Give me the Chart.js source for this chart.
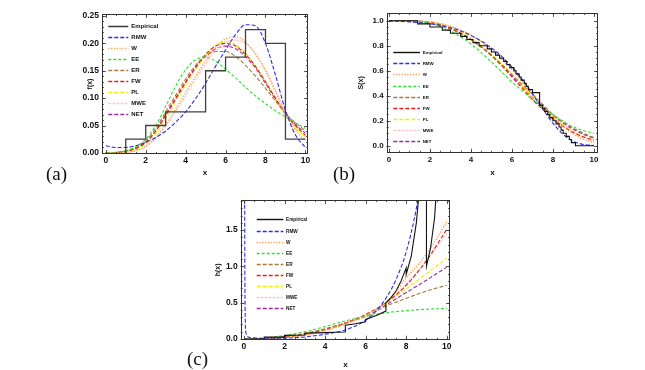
<!DOCTYPE html>
<html><head><meta charset="utf-8">
<script src="https://cdn.jsdelivr.net/npm/chart.js@4.4.0/dist/chart.umd.min.js"></script>
<style>
html,body{margin:0;padding:0;background:#fff;}
#wrap{position:relative;width:645px;height:370px;overflow:hidden;background:#fff;}
canvas{position:absolute;}
.tag{position:absolute;font-family:'Liberation Serif','Times New Roman',serif;font-size:19px;line-height:1;color:#111;}
</style></head><body>
<div id="wrap">
<canvas id="pdf" width="256" height="178" style="left:58px;top:4px"></canvas>
<canvas id="surv" width="265" height="178" style="left:340px;top:4px"></canvas>
<canvas id="haz" width="265" height="178" style="left:190px;top:192px"></canvas>
<div class="tag" style="left:46px;top:164px">(a)</div>
<div class="tag" style="left:333px;top:164px">(b)</div>
<div class="tag" style="left:187px;top:349px">(c)</div>
</div>
<script>
// ---------- data ----------
const names=['Empirical','RMW','W','EE','ER','FW','PL','MWE','NET'];
const gridX=[0,0.5,1,1.5,2,2.5,3,3.5,4,4.5,5,5.5,6,6.5,7,7.5,8,8.5,9,9.5,10];

// (a) density
const histX=[1,1,2,3,4,5,6,7,8,9,10];
const histY=[0,0.025,0.05,0.075,0.075,0.15,0.175,0.225,0.2,0.025,0.025];
const pdfRMW=[0.013,0.010,0.010,0.013,0.019,0.028,0.040,0.056,0.075,0.099,0.127,0.158,0.188,0.216,0.234,0.232,0.200,0.142,0.078,0.033,0.010];
const pdfW  =[0,0,0.001,0.004,0.012,0.028,0.052,0.080,0.110,0.140,0.168,0.193,0.208,0.212,0.202,0.180,0.150,0.112,0.072,0.042,0.022];
const pdfEE =[0,0.001,0.004,0.011,0.025,0.050,0.085,0.122,0.152,0.170,0.175,0.167,0.153,0.137,0.120,0.104,0.090,0.077,0.066,0.055,0.045];
const pdfER =[0,0.001,0.004,0.010,0.022,0.045,0.075,0.105,0.135,0.160,0.177,0.185,0.185,0.176,0.160,0.140,0.118,0.095,0.072,0.055,0.040];
const pdfFW =[0,0,0.003,0.008,0.019,0.040,0.070,0.100,0.130,0.157,0.180,0.195,0.200,0.195,0.180,0.158,0.130,0.100,0.072,0.050,0.032];
const pdfPL =[0,0,0.002,0.006,0.016,0.035,0.062,0.093,0.124,0.152,0.177,0.196,0.203,0.198,0.182,0.158,0.130,0.100,0.071,0.048,0.028];
const pdfMWE=[0,0,0.001,0.004,0.011,0.026,0.048,0.075,0.104,0.134,0.162,0.186,0.202,0.206,0.200,0.182,0.152,0.115,0.075,0.045,0.030];
const pdfNET=[0,0,0.003,0.008,0.019,0.040,0.068,0.098,0.128,0.155,0.176,0.190,0.195,0.190,0.176,0.155,0.127,0.098,0.072,0.052,0.036];

// (b) survival
const ecdfX=[0,1.4,2.0,2.6,3.0,3.5,3.8,4.1,4.4,4.8,5.0,5.2,5.4,5.6,5.75,5.9,6.1,6.2,6.35,6.45,6.6,6.7,6.8,7.0,7.35,7.5,7.6,7.75,7.85,8.0,8.15,8.3,8.4,8.5,8.65,8.8,8.9,9.1,10];
const ecdfY=[1,0.975,0.95,0.925,0.9,0.875,0.85,0.825,0.8,0.775,0.75,0.725,0.7,0.675,0.65,0.625,0.6,0.575,0.55,0.525,0.5,0.475,0.45,0.425,0.325,0.3,0.275,0.25,0.225,0.2,0.175,0.15,0.125,0.1,0.075,0.05,0.025,0,0];
const survRMW=[1,0.996,0.991,0.984,0.975,0.962,0.944,0.918,0.883,0.838,0.783,0.715,0.630,0.530,0.415,0.295,0.180,0.090,0.035,0.010,0.002];
const survW  =[1,1,0.999,0.996,0.990,0.977,0.955,0.925,0.885,0.835,0.770,0.695,0.610,0.515,0.415,0.320,0.230,0.155,0.095,0.050,0.025];
const survEE =[1,1,0.998,0.993,0.980,0.955,0.920,0.870,0.815,0.745,0.670,0.590,0.510,0.440,0.370,0.310,0.250,0.195,0.150,0.120,0.100];
const survER =[1,1,0.998,0.993,0.983,0.965,0.935,0.895,0.850,0.790,0.725,0.650,0.570,0.490,0.410,0.330,0.250,0.190,0.140,0.100,0.065];
const survFW =[1,1,0.999,0.995,0.986,0.968,0.940,0.900,0.850,0.790,0.720,0.640,0.550,0.460,0.370,0.290,0.215,0.155,0.105,0.070,0.045];
const survPL =[1,1,0.999,0.996,0.990,0.975,0.950,0.912,0.865,0.805,0.735,0.655,0.570,0.480,0.390,0.305,0.230,0.165,0.110,0.070,0.040];
const survMWE=[1,1,0.999,0.997,0.991,0.978,0.956,0.925,0.885,0.832,0.770,0.695,0.610,0.520,0.425,0.330,0.245,0.170,0.110,0.065,0.035];
const survNET=[1,1,0.999,0.995,0.986,0.967,0.938,0.898,0.850,0.790,0.722,0.645,0.560,0.475,0.390,0.310,0.240,0.180,0.130,0.090,0.060];

// (c) hazard
const hazX=[0,1,2,3,4,5,6,7,8,9,10];
const hazEmpX=[0,1,1,1.5,2,2,2.5,3,3,3.5,4,4,4.5,5,5,5.5,6,6,6.5,7,7,7.25,7.5,7.75,8,8,8.25,8.5,8.6,8.7,9,9,9.2,9.4,9.6];
const hazEmpY=[0,0,0.025,0.025,0.026,0.05,0.052,0.054,0.08,0.084,0.088,0.088,0.092,0.097,0.19,0.21,0.235,0.27,0.32,0.385,0.5,0.57,0.66,0.8,0.98,0.89,1.14,1.6,1.9,3,3,1.0,1.25,1.67,2.5];
const hazRMWX=[0.02,0.05,0.1,0.3,0.6,1,1.5,2,2.5,3,3.5,4,4.5,5,5.5,6,6.5,7,7.5,8,8.5,9];
const hazRMW=[4,0.6,0.08,0.02,0.012,0.01,0.01,0.012,0.018,0.028,0.045,0.065,0.09,0.125,0.18,0.26,0.38,0.56,0.82,1.2,1.8,2.7];
const hazW  =[0,0.002,0.02,0.055,0.12,0.21,0.33,0.5,0.84,1.17,1.61];
const hazEE =[0,0.012,0.048,0.1,0.17,0.25,0.31,0.36,0.39,0.41,0.42];
const hazER =[0,0.006,0.035,0.08,0.14,0.22,0.31,0.45,0.56,0.66,0.74];
const hazFW =[0,0.003,0.025,0.065,0.13,0.22,0.34,0.5,0.74,1.08,1.51];
const hazPL =[0,0.002,0.02,0.06,0.125,0.215,0.33,0.49,0.69,0.9,1.11];
const hazMWE=[0,0.002,0.018,0.05,0.11,0.2,0.32,0.49,0.76,1.08,1.45];
const hazNET=[0,0.004,0.028,0.07,0.135,0.22,0.33,0.47,0.64,0.81,0.99];

// tick labels
const xTicks=[0,2,4,6,8,10];
const pdfTicks=[0,0.05,0.1,0.15,0.2,0.25];
const survTicks=[0,0.2,0.4,0.6,0.8,1];
const hazTicks=[0,0.5,1,1.5];

// ---------- styles ----------
const styles={
  Empirical:{c:'#111',d:[],w:1.1},
  RMW:{c:'#2b2bf0',d:[4,2],w:1.1},
  W:{c:'#ff9c45',d:[1.2,1.6],w:1.4},
  EE:{c:'#2ee02e',d:[3,2],w:1.1},
  ER:{c:'#a87940',d:[4,2],w:1.1},
  FW:{c:'#ec1c1c',d:[4,2],w:1.1},
  PL:{c:'#f2f000',d:[4,2],w:1.1},
  MWE:{c:'#ffc9c9',d:[3,1],w:1.1},
  NET:{c:'#9a2aa0',d:[4,2],w:1.1}
};
const FONT='"Liberation Sans", Arial, sans-serif';
Chart.defaults.font.family=FONT;
Chart.defaults.color='#111';

const pts=(xs,ys)=>xs.map((x,i)=>({x:x,y:ys[i]}));
function ds(name,xs,ys,extra){
  const s=styles[name];
  return Object.assign({label:name,data:pts(xs,ys),borderColor:s.c,borderDash:s.d,borderWidth:s.w,
    pointRadius:0,fill:false,cubicInterpolationMode:'monotone'},extra||{});
}
function minors(lo,hi,step){const a=[];for(let v=lo;v<=hi+1e-9;v+=step)a.push(+v.toFixed(4));return a;}

const frameTicks={
  id:'frameTicks',
  afterDraw(chart,args,o){
    const {ctx,chartArea:ca,scales}=chart;
    ctx.save();
    ctx.strokeStyle='#333';ctx.lineWidth=1;
    ctx.strokeRect(Math.round(ca.left)+0.5,Math.round(ca.top)+0.5,Math.round(ca.width)-1,Math.round(ca.height)-1);
    const tick=(vals,len)=>{
      vals.forEach(v=>{
        const px=Math.round(scales.x.getPixelForValue(v))+0.5;
        if(px<ca.left||px>ca.right)return;
        ctx.beginPath();ctx.moveTo(px,ca.bottom);ctx.lineTo(px,ca.bottom-len);
        ctx.moveTo(px,ca.top);ctx.lineTo(px,ca.top+len);ctx.stroke();
      });
    };
    const ytick=(vals,len)=>{
      vals.forEach(v=>{
        const py=Math.round(scales.y.getPixelForValue(v))+0.5;
        if(py<ca.top||py>ca.bottom)return;
        ctx.beginPath();ctx.moveTo(ca.left,py);ctx.lineTo(ca.left+len,py);
        ctx.moveTo(ca.right,py);ctx.lineTo(ca.right-len,py);ctx.stroke();
      });
    };
    ctx.lineWidth=0.8;
    tick(o.xMinor,2);ytick(o.yMinor,2);
    tick(o.xMajor,4);ytick(o.yMajor,4);
    ctx.restore();
  }
};

const insideLegend={
  id:'insideLegend',
  afterDraw(chart,args,o){
    const {ctx,chartArea:ca}=chart;
    ctx.save();
    ctx.font='bold '+o.size+'px '+FONT;
    ctx.textBaseline='middle';
    chart.data.datasets.forEach((d,i)=>{
      const y=Math.round(ca.top+o.y+i*o.row)+0.5, x=ca.left+o.x;
      ctx.strokeStyle=d.borderColor;ctx.lineWidth=d.borderWidth+0.3;ctx.setLineDash(d.borderDash);
      ctx.beginPath();ctx.moveTo(x,y);ctx.lineTo(x+o.len,y);ctx.stroke();
      ctx.setLineDash([]);
      ctx.fillStyle='#111';ctx.fillText(d.label,x+o.len+o.gap,y);
    });
    ctx.restore();
  }
};

function makeChart(id,datasets,cfg){
  return new Chart(document.getElementById(id),{
    type:'line',
    data:{datasets:datasets},
    plugins:[frameTicks,insideLegend],
    options:{
      responsive:false,animation:false,devicePixelRatio:1,
      layout:{padding:cfg.pad},
      plugins:{legend:{display:false},tooltip:{enabled:false},
        frameTicks:{xMajor:xTicks,xMinor:minors(0,10,0.5),yMajor:cfg.yTicks,yMinor:cfg.yMinor},
        insideLegend:cfg.legend},
      scales:{
        x:{type:'linear',min:cfg.xMin,max:cfg.xMax,
          afterFit:s=>{s.height=cfg.xH;},
          afterBuildTicks:s=>{s.ticks=xTicks.map(v=>({value:v}));},
          grid:{display:false,drawTicks:false},border:{display:false},
          ticks:{padding:2,font:{size:cfg.tick,weight:'bold'},color:'#111',autoSkip:false,maxRotation:0},
          title:{display:true,text:'x',font:{size:8,weight:'bold'},padding:{top:0,bottom:cfg.xTitlePad}}},
        y:{type:'linear',min:cfg.yMin,max:cfg.yMax,
          afterFit:s=>{s.width=cfg.yW;},
          afterBuildTicks:s=>{s.ticks=cfg.yTicks.map(v=>({value:v}));},
          grid:{display:false,drawTicks:false},border:{display:false},
          ticks:{padding:3,font:{size:cfg.tick,weight:'bold'},color:'#111',autoSkip:false,
            callback:v=>Number(v).toFixed(cfg.dec)},
          title:{display:true,text:cfg.yLabel,font:{size:7,weight:'bold'},padding:{top:cfg.yTitlePad,bottom:0}}}
      }
    }
  });
}

// (a)
makeChart('pdf',[
  ds('Empirical',histX,histY,{stepped:true,borderColor:'#404040',borderWidth:1.3,cubicInterpolationMode:'default'}),
  ds('RMW',gridX,pdfRMW),ds('W',gridX,pdfW),ds('EE',gridX,pdfEE),ds('ER',gridX,pdfER),
  ds('FW',gridX,pdfFW),ds('PL',gridX,pdfPL),ds('MWE',gridX,pdfMWE),ds('NET',gridX,pdfNET)
],{pad:{left:0,top:10,right:6,bottom:0},xMin:-0.19,xMax:10.13,yMin:-0.002,yMax:0.2536,yW:44,xH:28,
  yTicks:pdfTicks,yMinor:minors(0,0.25,0.01),dec:2,tick:8.5,yLabel:'f(x)',yTitlePad:27.5,xTitlePad:4.8,
  legend:{x:6.3,y:11.7,row:11.08,len:20,gap:3,size:6}});

// (b)
makeChart('surv',[
  ds('Empirical',ecdfX,ecdfY,{stepped:true,cubicInterpolationMode:'default'}),
  ds('RMW',gridX,survRMW),ds('W',gridX,survW),ds('EE',gridX,survEE),ds('ER',gridX,survER),
  ds('FW',gridX,survFW),ds('PL',gridX,survPL),ds('MWE',gridX,survMWE),ds('NET',gridX,survNET)
],{pad:{left:0,top:9,right:7,bottom:0},xMin:-0.11,xMax:10.2,yMin:-0.056,yMax:1.062,yW:46.7,xH:29.3,
  yTicks:survTicks,yMinor:minors(0,1,0.05),dec:1,tick:8,yLabel:'S(x)',yTitlePad:16.8,xTitlePad:4.8,
  legend:{x:6.6,y:39.3,row:11.09,len:26.7,gap:2.7,size:4.4}});

// (c)
makeChart('haz',[
  ds('Empirical',hazEmpX,hazEmpY,{tension:0,cubicInterpolationMode:'default'}),
  ds('RMW',hazRMWX,hazRMW),ds('W',hazX,hazW),ds('EE',hazX,hazEE),ds('ER',hazX,hazER),
  ds('FW',hazX,hazFW),ds('PL',hazX,hazPL),ds('MWE',hazX,hazMWE),ds('NET',hazX,hazNET)
],{pad:{left:0,top:8,right:5,bottom:0},xMin:-0.16,xMax:10.16,yMin:-0.01,yMax:1.913,yW:50.7,xH:30.3,
  yTicks:hazTicks,yMinor:minors(0,1.9,0.1),dec:1,tick:8.5,yLabel:'h(x)',yTitlePad:23.8,xTitlePad:0,
  legend:{x:16,y:19.3,row:11.1,len:26.7,gap:2.6,size:4.7}});
</script>
</body></html>
